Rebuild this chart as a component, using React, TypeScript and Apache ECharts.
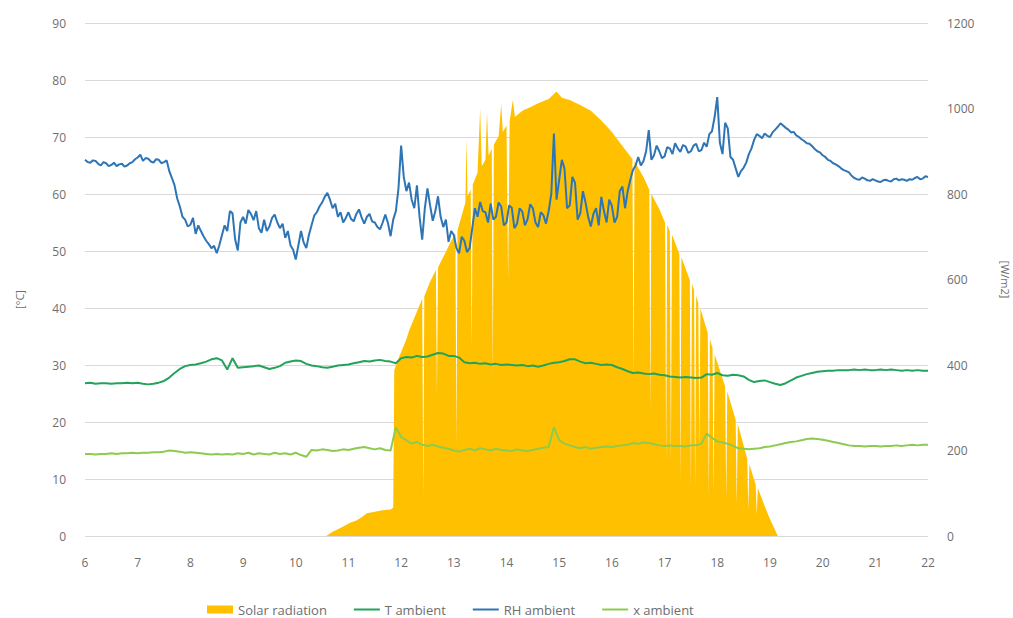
import React, { useEffect, useRef } from "react";
import * as echarts from "echarts";

// Time grids (hours)
const hours: number[] = Array.from({ length: 161 }, (_, i) => Math.round((6 + i * 0.1) * 100) / 100);
const rhHours: number[] = Array.from({ length: 321 }, (_, i) => Math.round((6 + i * 0.05) * 100) / 100);

const xTicks = [6, 7, 8, 9, 10, 11, 12, 13, 14, 15, 16, 17, 18, 19, 20, 21, 22];

// RH ambient [%] (left axis), 0.05 h sampling
const rhAmbient: number[] = [
  66.0, 65.6, 65.5, 65.9, 65.8, 65.3, 65.0, 65.6, 65.4, 64.9, 65.1, 65.5, 64.9, 65.2, 65.3, 64.8, 65.0, 65.4, 65.6, 66.1,
  66.4, 66.9, 65.8, 66.3, 66.2, 65.7, 65.5, 66.1, 66.0, 65.4, 65.6, 65.9, 64.0, 62.8, 61.5, 59.2, 57.8, 56.0, 55.5, 54.3,
  54.6, 55.8, 53.0, 54.5, 53.5, 52.6, 51.8, 51.2, 50.5, 50.9, 49.6, 51.0, 52.8, 54.5, 53.5, 57.0, 56.6, 52.0, 50.1, 55.0,
  56.0, 54.8, 57.2, 56.5, 55.4, 57.0, 54.0, 53.2, 55.5, 53.5, 54.3, 55.8, 56.4, 55.0, 54.0, 54.8, 52.3, 53.5, 51.0, 50.2,
  48.5, 51.0, 53.5, 51.5, 50.5, 52.8, 54.5, 56.2, 56.8, 57.8, 58.5, 59.5, 60.2, 59.0, 57.5, 58.3, 56.0, 56.8, 55.0, 55.8,
  56.8, 55.6, 55.2, 56.5, 57.3, 55.9, 54.8, 56.0, 56.5, 55.2, 55.0, 54.2, 53.8, 55.0, 56.4, 54.9, 52.6, 55.5, 57.0, 61.0,
  68.5, 63.0, 60.5, 62.0, 59.0, 57.5, 61.5, 56.0, 52.0, 57.5, 61.0, 58.0, 55.3, 57.0, 59.6, 56.0, 54.2, 55.5, 51.6, 53.5,
  52.8, 50.5, 49.6, 52.5, 51.8, 49.8, 50.5, 54.0, 57.5, 56.0, 58.6, 57.0, 56.8, 55.0, 58.3, 55.5, 56.0, 58.5, 57.8, 54.5,
  55.0, 58.0, 57.6, 54.0, 54.8, 57.5, 56.9, 54.5, 55.6, 58.2, 57.5, 55.0, 54.2, 56.8, 56.3, 54.8, 57.0, 60.0, 70.6, 59.0,
  62.5, 66.0, 64.5, 57.5, 58.0, 63.0, 62.0, 55.5, 56.6, 60.5, 58.5, 56.0, 54.3, 56.5, 57.5, 54.5, 59.5, 57.0, 55.0, 59.0,
  57.9, 55.0, 56.0, 60.5, 61.3, 57.5, 60.5, 62.5, 64.2, 65.0, 66.5, 65.0, 65.8, 67.5, 71.2, 66.0, 66.8, 68.5, 67.5, 66.3,
  66.6, 68.2, 68.0, 67.0, 68.9, 68.0, 67.4, 68.6, 68.3, 67.2, 67.5, 68.5, 68.8, 67.5, 67.7, 69.0, 68.3, 70.5, 71.0, 73.5,
  77.0, 69.0, 67.0, 72.5, 71.5, 66.5, 66.0, 64.5, 63.0, 64.0, 64.6, 65.5, 67.0, 68.0, 69.5, 70.5, 70.2, 69.8, 70.6, 70.2,
  70.0, 70.8, 71.3, 71.8, 72.4, 72.0, 71.6, 71.3, 70.8, 70.9, 70.3, 70.0, 69.6, 69.3, 68.9, 68.8, 68.4, 67.9, 67.5, 67.3,
  66.8, 66.5, 66.0, 65.8, 65.4, 65.2, 64.9, 64.5, 64.2, 64.0, 63.8, 63.2, 62.8, 62.6, 62.5, 62.9, 62.7, 62.4, 62.3, 62.6,
  62.4, 62.2, 62.1, 62.4, 62.5, 62.3, 62.2, 62.6, 62.7, 62.4, 62.6, 62.5, 62.3, 62.6, 62.5, 62.8, 63.0, 62.6, 62.7, 63.1,
  63.0,
];

// T ambient [°C] (left axis), 0.1 h sampling
const tAmbient: number[] = [
  26.8, 26.9, 26.7, 26.8, 26.8, 26.7, 26.8, 26.8, 26.9, 26.8,
  26.9, 26.7, 26.6, 26.7, 26.9, 27.2, 27.8, 28.6, 29.3, 29.8,
  30.0, 30.1, 30.3, 30.6, 31.0, 31.2, 30.8, 29.2, 31.2, 29.5,
  29.6, 29.7, 29.8, 29.9, 29.6, 29.3, 29.5, 29.8, 30.4, 30.6,
  30.8, 30.7, 30.2, 29.9, 29.8, 29.6, 29.5, 29.7, 29.9, 30.0,
  30.1, 30.3, 30.5, 30.7, 30.6, 30.8, 30.9, 30.7, 30.6, 30.3,
  31.2, 31.4, 31.3, 31.6, 31.4, 31.5, 31.8, 32.1, 32.0, 31.6,
  31.6, 31.3, 30.5, 30.3, 30.4, 30.2, 30.3, 30.1, 30.2, 30.0,
  30.1, 30.0, 29.9, 30.0, 29.8, 29.9, 29.7, 29.9, 30.2, 30.4,
  30.5, 30.7, 31.0, 31.0, 30.6, 30.3, 30.4, 30.2, 30.0, 30.1,
  30.0, 29.6, 29.3, 28.9, 28.6, 28.7, 28.5, 28.4, 28.5, 28.3,
  28.2, 28.0, 27.9, 27.8, 27.9, 27.8, 27.7, 27.8, 28.4, 28.3,
  28.6, 28.2, 28.1, 28.3, 28.2, 28.0, 27.4, 27.0, 27.2, 27.3,
  27.0, 26.7, 26.5, 26.8, 27.3, 27.8, 28.1, 28.4, 28.6, 28.8,
  28.9, 29.0, 29.0, 29.1, 29.1, 29.1, 29.2, 29.1, 29.2, 29.1,
  29.1, 29.2, 29.1, 29.2, 29.1, 29.0, 29.1, 29.0, 29.1, 29.0,
  29.0,
];

// x ambient (left axis), 0.1 h sampling
const xAmbient: number[] = [
  14.4, 14.4, 14.3, 14.4, 14.4, 14.5, 14.4, 14.5, 14.5, 14.6,
  14.5, 14.6, 14.6, 14.7, 14.7, 14.8, 15.0, 14.9, 14.8, 14.6,
  14.7, 14.6, 14.5, 14.4, 14.3, 14.4, 14.3, 14.4, 14.3, 14.5,
  14.4, 14.6, 14.3, 14.5, 14.4, 14.3, 14.6, 14.4, 14.5, 14.3,
  14.6, 14.2, 13.9, 15.1, 15.0, 15.2, 15.1, 14.9, 15.0, 15.2,
  15.1, 15.3, 15.5, 15.6, 15.4, 15.2, 15.4, 15.1, 15.0, 19.1,
  17.4, 16.8, 16.2, 16.5, 16.0, 15.8, 16.0, 15.7, 15.5, 15.3,
  15.0, 14.8, 15.1, 15.3, 15.0, 15.4, 15.2, 15.0, 15.3, 15.1,
  15.0, 14.9, 15.2, 15.0, 14.9, 15.1, 15.3, 15.5, 15.6, 19.1,
  16.8, 16.2, 15.9, 15.6, 15.4, 15.6, 15.3, 15.5, 15.6, 15.7,
  15.6, 15.8, 15.9, 16.0, 16.3, 16.2, 16.4, 16.3, 16.1, 15.9,
  15.8, 15.9, 15.8, 15.8, 15.7, 15.9, 15.9, 16.2, 18.0, 17.2,
  16.6, 16.4, 16.2, 15.8, 15.4, 15.3, 15.2, 15.3, 15.4, 15.6,
  15.7, 15.9, 16.1, 16.3, 16.5, 16.6, 16.8, 17.0, 17.1, 17.0,
  16.9, 16.7, 16.5, 16.3, 16.1, 15.9, 15.8, 15.8, 15.7, 15.8,
  15.8, 15.7, 15.8, 15.8, 15.9, 15.8, 15.9, 16.0, 15.9, 16.0,
  16.0,
];

// Solar radiation [W/m2] (right axis): sample time and value
const solarTime: number[] = [
  10.58, 10.7, 10.8, 10.9, 11.03, 11.15, 11.25, 11.35, 11.5, 11.65, 11.8, 11.85,
  11.87, 11.95, 12.05, 12.1, 12.15, 12.25, 12.35, 12.4, 12.42, 12.44, 12.55, 12.66, 12.68, 12.7,
  12.85, 12.95, 13.03, 13.05, 13.07, 13.15, 13.22, 13.24, 13.26, 13.32, 13.34, 13.36,
  13.45, 13.5, 13.53, 13.6, 13.63, 13.66, 13.72, 13.74, 13.76, 13.85, 13.9, 13.93,
  14.0, 14.03, 14.06, 14.12, 14.16, 14.3, 14.45, 14.6, 14.8, 14.95, 15.05, 15.2,
  15.4, 15.6, 15.8, 16.0, 16.2, 16.39, 16.41, 16.43, 16.6, 16.71, 16.73, 16.75,
  16.9, 17.01, 17.03, 17.05, 17.1, 17.12, 17.14, 17.28, 17.3, 17.32, 17.48, 17.5,
  17.52, 17.56, 17.58, 17.6, 17.64, 17.66, 17.68, 17.82, 17.84, 17.86, 17.91, 17.93,
  17.95, 18.15, 18.17, 18.19, 18.35, 18.37, 18.39, 18.57, 18.59, 18.61, 18.73, 18.75,
  18.77, 18.9, 19.0, 19.15,
];
const solarRadiation: number[] = [
  0, 10, 16, 22, 31, 36, 44, 53, 57, 60, 62, 66,
  388, 415, 445, 460, 480, 510, 540, 555, 85, 560, 595, 622, 330, 628,
  665, 690, 708, 210, 715, 750, 780, 930, 795, 810, 440, 822,
  850, 1000, 865, 880, 990, 890, 905, 370, 915, 935, 1010, 945,
  960, 600, 970, 1020, 980, 995, 1003, 1012, 1022, 1040, 1025, 1020,
  1008, 995, 972, 945, 912, 882, 365, 876, 840, 810, 290, 800,
  765, 733, 170, 728, 712, 170, 705, 660, 130, 652, 598, 108,
  590, 575, 110, 562, 545, 200, 532, 475, 90, 460, 440, 100,
  425, 350, 85, 338, 272, 75, 262, 180, 60, 168, 120, 50,
  112, 70, 40, 0,
];

const C_SOLAR = "#FFC000";
const C_T = "#22A35A";
const C_RH = "#2E75B6";
const C_X = "#8DCB4F";
const C_TEXT = "#6E6E6E";
const C_GRID = "#D9D9D9";

export default function App() {
  const ref = useRef<HTMLDivElement>(null);

  useEffect(() => {
    document.body.style.margin = "0";
    if (!ref.current) return;
    const chart = echarts.init(ref.current, undefined, { renderer: "svg" });

    const zip = (xs: number[], ys: number[]) => xs.map((h, i) => [h, ys[i]]);
    const solar = zip(solarTime, solarRadiation);

    const font = "'Open Sans', 'Liberation Sans', sans-serif";
    const hideSymbol = { opacity: 0 };

    chart.setOption({
      animation: false,
      backgroundColor: "#ffffff",
      textStyle: { fontFamily: font },
      grid: { left: 85, right: 85, top: 23, bottom: 82, containLabel: false, outerBoundsMode: "none" },
      legend: {
        left: 202,
        top: 598,
        itemGap: 26,
        itemWidth: 26,
        itemHeight: 8,
        textStyle: { color: C_TEXT, fontSize: 13, fontFamily: font },
        data: [
          { name: "Solar radiation", icon: "rect" },
          { name: "T ambient", itemStyle: hideSymbol },
          { name: "RH ambient", itemStyle: hideSymbol },
          { name: "x ambient", itemStyle: hideSymbol },
        ],
      },
      xAxis: {
        type: "value",
        min: 6,
        max: 22,
        interval: 1,
        axisLine: { show: false },
        axisTick: { show: false },
        splitLine: { show: false },
        axisLabel: {
          color: C_TEXT,
          fontSize: 12,
          margin: 20,
          formatter: (v: number) => (xTicks.includes(v) ? String(v) : ""),
        },
      },
      yAxis: [
        {
          type: "value",
          min: 0,
          max: 90,
          interval: 10,
          name: "[°C]",
          nameLocation: "middle",
          nameGap: 60,
          nameTextStyle: { color: C_TEXT, fontSize: 11, padding: [0, 40, 0, 0] },
          axisLine: { show: false },
          axisTick: { show: false },
          axisLabel: { color: C_TEXT, fontSize: 12, margin: 19 },
          splitLine: { show: true, lineStyle: { color: C_GRID, width: 1 } },
        },
        {
          type: "value",
          min: 0,
          max: 1200,
          interval: 200,
          name: "[W/m2]",
          nameLocation: "middle",
          nameRotate: -90,
          nameGap: 72,
          nameTextStyle: { color: C_TEXT, fontSize: 11 },
          axisLine: { show: false },
          axisTick: { show: false },
          axisLabel: { color: C_TEXT, fontSize: 12, margin: 19, formatter: (v: number) => String(v) },
          splitLine: { show: false },
        },
      ],
      series: [
        {
          name: "Solar radiation",
          type: "line",
          yAxisIndex: 1,
          data: solar,
          symbol: "none",
          lineStyle: { width: 0, color: C_SOLAR },
          itemStyle: { color: C_SOLAR },
          areaStyle: { color: C_SOLAR, opacity: 1 },
          z: 1,
        },
        {
          name: "T ambient",
          type: "line",
          data: zip(hours, tAmbient),
          symbol: "none",
          lineStyle: { width: 2, color: C_T },
          itemStyle: { color: C_T },
          z: 3,
        },
        {
          name: "RH ambient",
          type: "line",
          data: zip(rhHours, rhAmbient),
          symbol: "none",
          lineStyle: { width: 2, color: C_RH },
          itemStyle: { color: C_RH },
          z: 4,
        },
        {
          name: "x ambient",
          type: "line",
          data: zip(hours, xAmbient),
          symbol: "none",
          lineStyle: { width: 2, color: C_X },
          itemStyle: { color: C_X },
          z: 3,
        },
      ],
    });

    return () => chart.dispose();
  }, []);

  return <div ref={ref} style={{ width: 1013, height: 618 }} />;
}
